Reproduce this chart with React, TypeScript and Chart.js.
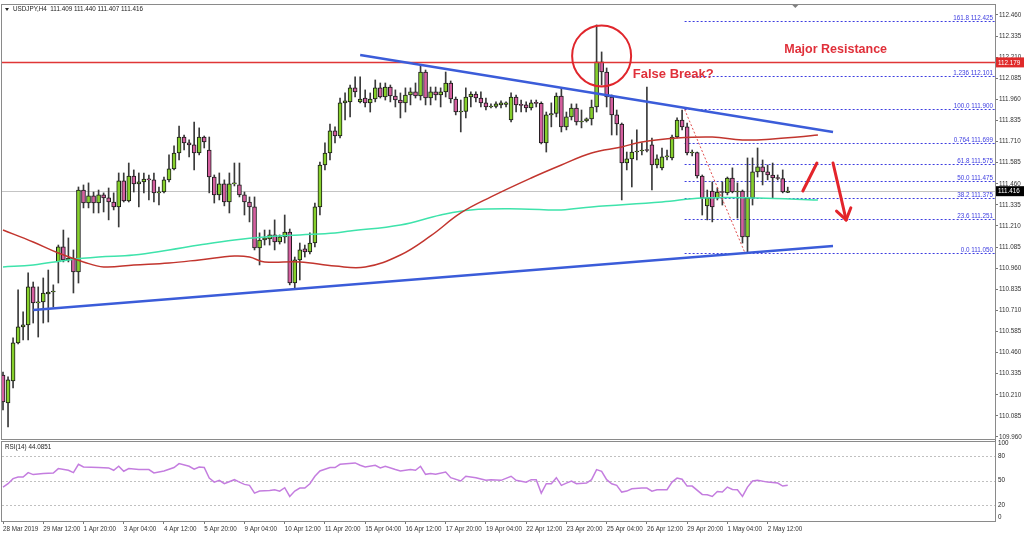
import React, { useEffect, useRef } from "react";
import { Chart, registerables } from "chart.js";
Chart.register(...registerables);

// ---------- DATA ----------
const opens = [110.327,110.161,110.292,110.517,110.612,110.624,110.849,110.754,110.760,110.807,110.819,110.997,111.086,111.009,111.020,110.938,111.423,111.346,111.388,111.346,111.394,111.376,111.352,111.323,111.477,111.358,111.506,111.459,111.471,111.488,111.483,111.406,111.411,111.483,111.548,111.642,111.737,111.702,111.690,111.642,111.737,111.660,111.500,111.394,111.459,111.352,111.459,111.453,111.394,111.352,111.323,111.080,111.127,111.133,111.157,111.115,111.145,111.174,110.872,111.009,111.074,111.056,111.109,111.323,111.571,111.642,111.773,111.743,111.939,111.945,112.028,111.945,111.968,111.939,111.962,112.028,111.974,112.033,111.980,111.956,111.939,111.986,112.004,111.980,112.122,111.968,112.004,111.986,112.004,112.057,111.962,111.885,111.888,111.974,111.992,111.968,111.939,111.915,111.918,111.927,111.930,111.838,111.974,111.927,111.927,111.909,111.939,111.936,111.702,111.868,111.876,111.980,111.797,111.856,111.909,111.826,111.832,111.844,111.915,112.182,112.122,111.974,111.868,111.814,111.583,111.607,111.648,111.654,111.660,111.690,111.571,111.554,111.619,111.613,111.737,111.838,111.797,111.642,111.645,111.506,111.329,111.417,111.376,111.411,111.406,111.494,111.411,111.417,111.145,111.376,111.530,111.560,111.530,111.512,111.494,111.491,111.409];
const highs = [110.345,110.316,110.547,110.831,110.701,110.932,110.878,110.849,110.902,110.949,110.861,111.097,111.186,111.139,111.068,111.441,111.453,111.465,111.411,111.423,111.406,111.435,111.406,111.524,111.524,111.583,111.542,111.524,111.524,111.512,111.524,111.441,111.500,111.631,111.684,111.802,111.749,111.720,111.826,111.791,111.743,111.737,111.512,111.524,111.483,111.524,111.583,111.583,111.411,111.382,111.382,111.169,111.186,111.186,111.246,111.157,111.275,111.192,111.026,111.109,111.097,111.169,111.346,111.589,111.702,111.814,111.797,111.968,111.998,112.045,112.093,112.093,112.016,111.998,112.075,112.057,112.057,112.045,112.016,111.998,112.028,112.028,112.057,112.164,112.134,112.033,112.033,112.028,112.122,112.069,111.974,111.956,112.028,112.004,112.004,112.004,111.968,111.933,111.945,111.951,111.945,111.998,111.986,111.956,111.945,111.956,111.956,111.945,111.885,111.939,111.998,112.028,111.885,111.933,111.933,111.897,111.850,111.956,112.401,112.241,112.146,111.986,111.897,111.820,111.648,111.720,111.779,111.702,112.033,111.731,111.631,111.672,111.660,111.749,111.850,111.897,111.820,111.660,111.648,111.512,111.423,111.471,111.435,111.471,111.500,111.554,111.465,111.423,111.613,111.613,111.672,111.601,111.571,111.583,111.512,111.542,111.440];
const lows = [110.120,110.019,110.250,110.511,110.535,110.535,110.635,110.552,110.635,110.641,110.730,110.872,110.997,110.997,110.813,110.872,111.317,111.317,111.287,111.287,111.293,111.246,111.305,111.204,111.352,111.352,111.411,111.323,111.406,111.364,111.352,111.334,111.406,111.471,111.542,111.601,111.660,111.619,111.542,111.631,111.672,111.406,111.346,111.364,111.329,111.287,111.447,111.382,111.275,111.234,111.068,110.979,111.097,111.097,111.068,111.103,111.109,110.861,110.843,110.890,111.026,111.044,111.086,111.275,111.542,111.601,111.702,111.731,111.838,111.856,111.974,111.939,111.915,111.885,111.945,111.968,111.956,111.945,111.915,111.850,111.885,111.927,111.968,111.956,111.927,111.927,111.956,111.915,111.974,111.939,111.868,111.767,111.850,111.915,111.945,111.915,111.897,111.909,111.909,111.909,111.915,111.826,111.885,111.885,111.885,111.897,111.915,111.696,111.648,111.797,111.856,111.767,111.779,111.838,111.808,111.791,111.826,111.808,111.885,112.045,111.915,111.749,111.749,111.364,111.542,111.441,111.601,111.631,111.648,111.423,111.554,111.542,111.601,111.601,111.731,111.779,111.631,111.625,111.494,111.275,111.246,111.234,111.364,111.334,111.394,111.406,111.257,111.109,111.050,111.334,111.500,111.453,111.483,111.376,111.483,111.406,111.407];
const closes = [110.167,110.298,110.517,110.612,110.624,110.849,110.754,110.760,110.813,110.819,110.822,111.086,111.009,111.020,110.938,111.423,111.346,111.388,111.346,111.394,111.376,111.352,111.323,111.477,111.358,111.506,111.459,111.471,111.488,111.483,111.406,111.411,111.483,111.548,111.642,111.737,111.702,111.690,111.642,111.737,111.708,111.500,111.394,111.459,111.352,111.459,111.462,111.394,111.352,111.323,111.080,111.127,111.139,111.157,111.115,111.145,111.174,110.872,111.009,111.068,111.056,111.109,111.323,111.571,111.642,111.773,111.743,111.939,111.951,112.028,112.004,111.962,111.939,111.962,112.028,111.974,112.033,111.980,111.956,111.939,111.986,112.004,111.980,112.122,111.968,112.004,111.986,112.004,112.057,111.962,111.885,111.888,111.974,111.992,111.968,111.939,111.915,111.918,111.933,111.939,111.939,111.974,111.927,111.924,111.909,111.939,111.936,111.702,111.868,111.876,111.980,111.797,111.856,111.909,111.826,111.832,111.844,111.915,112.182,112.122,111.974,111.868,111.814,111.583,111.607,111.648,111.654,111.660,111.657,111.571,111.607,111.619,111.622,111.737,111.838,111.797,111.642,111.645,111.506,111.376,111.376,111.323,111.411,111.408,111.494,111.411,111.417,111.145,111.376,111.530,111.560,111.530,111.512,111.494,111.491,111.411,111.416];

// moving averages, read at sampled bars (bar index, price)
const redMaIdx = [0,6,11,16,20,26,33,39,46,49,52,59,66,72,79,85,91,97,105,111,117,123,127,134,141,147,153,158,162];
const redMaVal = [111.186,111.115,111.050,110.997,110.967,110.979,110.991,111.009,111.032,111.026,110.997,110.997,110.973,110.967,111.038,111.151,111.287,111.382,111.494,111.571,111.642,111.678,111.708,111.731,111.737,111.720,111.725,111.737,111.749];
const greenMaIdx = [0,6,13,19,26,33,39,46,52,59,66,69,79,87,93,103,111,117,131,139,150,162];
const greenMaVal = [110.967,110.979,111.009,111.026,111.038,111.068,111.097,111.127,111.145,111.157,111.169,111.180,111.216,111.275,111.305,111.311,111.305,111.323,111.352,111.376,111.376,111.364];

// RSI(14), read at sampled bars
const rsiIdx = [0,1,2,3,4,5,6,8,10,11,13,14,15,16,19,21,22,23,24,25,27,29,30,32,34,35,37,38,39,40,41,42,43,44,46,47,48,49,50,51,53,54,55,56,57,58,59,60,61,62,63,65,66,67,70,71,72,74,75,76,78,79,81,82,83,84,85,86,88,89,91,92,94,96,97,99,101,102,104,105,106,107,108,109,110,111,112,113,114,116,117,118,119,120,121,122,123,124,125,127,128,129,130,132,133,134,135,136,137,139,140,141,142,143,144,145,146,147,148,149,150,152,154,155,156];
const rsiVal = [41.9,46,52.3,54.3,54.3,59.7,57.3,58.5,59.3,64.7,62.6,59.7,70,66.7,66,65.5,62.6,67.6,61.4,64.7,63.5,63.5,59.3,61.8,66,70.9,67.6,63.9,66.7,66,53,48,50.2,46,51,48,45.2,44,34.4,36.9,37.8,38.6,36.9,41.1,30.3,36.9,40.6,40.6,46,55.2,61.8,66,66,70,71.7,68.8,66.7,68.8,65.5,67.6,63.5,61.8,63.5,62.6,67.6,57.6,58.5,57.6,60.5,53.5,49.4,55.2,53.5,50.2,51,50.2,55.2,50.2,48,51,51,34.4,46,46,53.5,44,46.8,49.3,46,46.8,51,63.5,61.4,51,46,44,35.7,36.9,39.8,40.6,40.6,36.9,38.6,38.6,48,53,51.6,43.1,43.1,32.8,32.4,30.3,36.5,35.7,41.9,39,38.6,30.3,41.9,49.3,50.2,48,46.8,43.1,44.0851];

const priceTicks = [109.96,110.085,110.21,110.335,110.46,110.585,110.71,110.835,110.96,111.085,111.21,111.335,111.46,111.585,111.71,111.835,111.96,112.085,112.21,112.335,112.46];
const xTickIdx = [0,8,16,24,32,40,48,56,64,72,80,88,96,104,112,120,128,136,144,152];
const xTickLabels = ["28 Mar 2019","29 Mar 12:00","1 Apr 20:00","3 Apr 04:00","4 Apr 12:00","5 Apr 20:00","9 Apr 04:00","10 Apr 12:00","11 Apr 20:00","15 Apr 04:00","16 Apr 12:00","17 Apr 20:00","19 Apr 04:00","22 Apr 12:00","23 Apr 20:00","25 Apr 04:00","26 Apr 12:00","29 Apr 20:00","1 May 04:00","2 May 12:00"];

const fibLevels = [112.425,112.101,111.900,111.699,111.575,111.475,111.375,111.251,111.050];
const fibNames = ["161.8","1.236","100.0","0.764","61.8","50.0","38.2","23.6","0.0"];
const fibStartIdx = 135.5;
const fibDiagIdx = [135.5, 147.5];
const fibDiagVal = [111.900, 111.050];

const resistance = 112.179;
const lastPrice = 111.416;
const titleText = "USDJPY,H4  111.409 111.440 111.407 111.416";
const rsiTitle = "RSI(14) 44.0851";
const rsiGrid = [80, 50, 20];
const rsiAxisLabels = [100, 80, 50, 20, 0];

// drawn objects anchored in (bar index, price)
const downTrendIdx = [71, 165];
const downTrendVal = [112.223, 111.767];
const upTrendIdx = [6, 165];
const upTrendVal = [110.712, 111.091];
const circleAt = [119, 112.217];
const shortArrowIdx = [159, 161.8];
const shortArrowVal = [111.417, 111.583];
const longArrowIdx = [165, 167.6];
const longArrowVal = [111.583, 111.246];
const majorResAt = [155.3, 112.253];
const falseBreakAt = [125.2, 112.110];
const shiftMarkIdx = 157.5;

// ---------- STYLE ----------
const X_MIN = -0.2;
const X_MAX = 197.2;
const SMALL = "6.3px 'Liberation Sans', Arial, sans-serif";
const BULL = "#86d02c";
const BEAR = "#d45f9f";

function seg(ctx: CanvasRenderingContext2D, x1: number, y1: number, x2: number, y2: number) {
  ctx.beginPath();
  ctx.moveTo(x1, y1);
  ctx.lineTo(x2, y2);
  ctx.stroke();
}

const mainOverlay = {
  id: "mainOverlay",
  beforeDatasetsDraw(chart: any) {
    const { ctx, chartArea: a, scales } = chart;
    const x = scales.x, y = scales.y;
    ctx.save();
    ctx.strokeStyle = "#c4c4c4";
    ctx.lineWidth = 1;
    const yp = Math.round(y.getPixelForValue(lastPrice)) + 0.5;
    seg(ctx, a.left, yp, a.right, yp);
    ctx.strokeStyle = "#3d3de0";
    ctx.setLineDash([2, 2]);
    const xs = x.getPixelForValue(fibStartIdx);
    fibLevels.forEach((v) => {
      const py = Math.round(y.getPixelForValue(v)) + 0.5;
      seg(ctx, xs, py, a.right, py);
    });
    ctx.restore();
  },
  afterDatasetsDraw(chart: any) {
    const { ctx, chartArea: a, scales } = chart;
    const x = scales.x, y = scales.y;
    ctx.save();
    // fib labels
    ctx.font = SMALL;
    ctx.fillStyle = "#3d3de0";
    ctx.textAlign = "right";
    ctx.textBaseline = "bottom";
    fibLevels.forEach((v, k) => {
      const py = Math.round(y.getPixelForValue(v));
      ctx.fillText(fibNames[k] + " " + v.toFixed(3), a.right - 2, py);
    });
    // fib diagonal
    ctx.strokeStyle = "#e05050";
    ctx.lineWidth = 1;
    ctx.setLineDash([2, 2]);
    seg(ctx, x.getPixelForValue(fibDiagIdx[0]), y.getPixelForValue(fibDiagVal[0]), x.getPixelForValue(fibDiagIdx[1]), y.getPixelForValue(fibDiagVal[1]));
    ctx.setLineDash([]);
    // resistance
    ctx.strokeStyle = "#e03636";
    ctx.lineWidth = 1.5;
    const ry = y.getPixelForValue(resistance);
    seg(ctx, a.left, ry, a.right, ry);
    // trend lines
    ctx.strokeStyle = "#3b5cd9";
    ctx.lineWidth = 2.5;
    seg(ctx, x.getPixelForValue(downTrendIdx[0]), y.getPixelForValue(downTrendVal[0]), x.getPixelForValue(downTrendIdx[1]), y.getPixelForValue(downTrendVal[1]));
    seg(ctx, x.getPixelForValue(upTrendIdx[0]), y.getPixelForValue(upTrendVal[0]), x.getPixelForValue(upTrendIdx[1]), y.getPixelForValue(upTrendVal[1]));
    // circle
    ctx.strokeStyle = "#e0262c";
    ctx.lineWidth = 2;
    ctx.beginPath();
    ctx.ellipse(x.getPixelForValue(circleAt[0]), y.getPixelForValue(circleAt[1]), 29.5, 30.5, 0, 0, Math.PI * 2);
    ctx.stroke();
    // arrows
    ctx.strokeStyle = "#e3242b";
    ctx.lineWidth = 3;
    ctx.lineCap = "round";
    seg(ctx, x.getPixelForValue(shortArrowIdx[0]), y.getPixelForValue(shortArrowVal[0]), x.getPixelForValue(shortArrowIdx[1]), y.getPixelForValue(shortArrowVal[1]));
    const ax1 = x.getPixelForValue(longArrowIdx[0]), ay1 = y.getPixelForValue(longArrowVal[0]);
    const ax2 = x.getPixelForValue(longArrowIdx[1]), ay2 = y.getPixelForValue(longArrowVal[1]);
    seg(ctx, ax1, ay1, ax2, ay2);
    const ang = Math.atan2(ay2 - ay1, ax2 - ax1);
    const hl = 13;
    seg(ctx, ax2, ay2, ax2 - hl * Math.cos(ang - 0.6), ay2 - hl * Math.sin(ang - 0.6));
    seg(ctx, ax2, ay2, ax2 - hl * Math.cos(ang + 0.6), ay2 - hl * Math.sin(ang + 0.6));
    // texts
    ctx.fillStyle = "#e0303a";
    ctx.textAlign = "left";
    ctx.textBaseline = "middle";
    ctx.font = "bold 12.5px 'Liberation Sans', Arial, sans-serif";
    ctx.fillText("Major Resistance", x.getPixelForValue(majorResAt[0]), y.getPixelForValue(majorResAt[1]));
    ctx.font = "bold 13px 'Liberation Sans', Arial, sans-serif";
    ctx.fillText("False Break?", x.getPixelForValue(falseBreakAt[0]), y.getPixelForValue(falseBreakAt[1]));
    ctx.restore();
  },
  afterDraw(chart: any) {
    const { ctx, chartArea: a, scales } = chart;
    const x = scales.x, y = scales.y;
    ctx.save();
    ctx.strokeStyle = "#8a8a8a";
    ctx.lineWidth = 1;
    ctx.strokeRect(a.left - 0.5, a.top - 0.5, a.right - a.left + 1, a.bottom - a.top + 1);
    // shift marker
    const sx = x.getPixelForValue(shiftMarkIdx);
    ctx.fillStyle = "#808080";
    ctx.beginPath();
    ctx.moveTo(sx - 3, a.top);
    ctx.lineTo(sx + 3, a.top);
    ctx.lineTo(sx, a.top + 3);
    ctx.closePath();
    ctx.fill();
    // title
    ctx.fillStyle = "#222";
    ctx.beginPath();
    ctx.moveTo(5, 8);
    ctx.lineTo(9, 8);
    ctx.lineTo(7, 11);
    ctx.closePath();
    ctx.fill();
    ctx.font = SMALL;
    ctx.textBaseline = "middle";
    ctx.textAlign = "left";
    ctx.fillText(titleText, 13, 9.5);
    // axis price boxes
    const box = (v: number, bg: string) => {
      const py = y.getPixelForValue(v);
      ctx.fillStyle = bg;
      ctx.fillRect(a.right + 1, py - 5, 28, 10);
      ctx.fillStyle = "#fff";
      ctx.fillText(v.toFixed(3), a.right + 3, py + 0.5);
    };
    box(resistance, "#e02a2a");
    box(lastPrice, "#000");
    ctx.restore();
  },
};

const rsiOverlay = {
  id: "rsiOverlay",
  beforeDatasetsDraw(chart: any) {
    const { ctx, chartArea: a, scales } = chart;
    const y = scales.y;
    ctx.save();
    ctx.strokeStyle = "#c0c0c0";
    ctx.lineWidth = 1;
    ctx.setLineDash([2, 2]);
    rsiGrid.forEach((v) => {
      const py = Math.round(y.getPixelForValue(v)) + 0.5;
      seg(ctx, a.left, py, a.right, py);
    });
    ctx.restore();
  },
  afterDraw(chart: any) {
    const { ctx, chartArea: a, scales } = chart;
    const y = scales.y;
    ctx.save();
    ctx.strokeStyle = "#8a8a8a";
    ctx.lineWidth = 1;
    ctx.strokeRect(a.left - 0.5, a.top + 1.5, a.right - a.left + 1, a.bottom - a.top - 1);
    ctx.fillStyle = "#222";
    ctx.font = SMALL;
    ctx.textBaseline = "middle";
    ctx.textAlign = "left";
    ctx.fillText(rsiTitle, 5, 7.5);
    rsiAxisLabels.forEach((v) => {
      let py = y.getPixelForValue(v);
      if (v === 100) py += 3.5;
      if (v === 0) py -= 4;
      ctx.fillText(String(v), a.right + 3, py);
    });
    ctx.restore();
  },
};

export default function App() {
  const mainRef = useRef<HTMLCanvasElement>(null);
  const rsiRef = useRef<HTMLCanvasElement>(null);

  useEffect(() => {
    Chart.defaults.font.family = "'Liberation Sans', Arial, sans-serif";
    const bodyColors = opens.map((o, i) => (closes[i] >= o ? BULL : BEAR));
    const main = new Chart(mainRef.current as HTMLCanvasElement, {
      type: "bar",
      data: {
        datasets: [
          {
            type: "bar",
            data: lows.map((l, i) => ({ x: i, y: [l, highs[i]] })) as any,
            backgroundColor: "#3a3a3a",
            barThickness: 1,
            grouped: false,
            order: 4,
          } as any,
          {
            type: "bar",
            data: opens.map((o, i) => ({ x: i, y: [o, closes[i]] })) as any,
            backgroundColor: bodyColors,
            borderColor: "#1a1a1a",
            borderWidth: 1,
            borderSkipped: false,
            barThickness: 4,
            minBarLength: 1,
            grouped: false,
            order: 3,
          } as any,
          {
            type: "line",
            data: redMaIdx.map((v, k) => ({ x: v, y: redMaVal[k] })),
            borderColor: "#c2352e",
            borderWidth: 1.5,
            pointRadius: 0,
            tension: 0.4,
            order: 1,
          } as any,
          {
            type: "line",
            data: greenMaIdx.map((v, k) => ({ x: v, y: greenMaVal[k] })),
            borderColor: "#3ee3ab",
            borderWidth: 1.5,
            pointRadius: 0,
            tension: 0.4,
            order: 1,
          } as any,
        ],
      },
      options: {
        responsive: false,
        maintainAspectRatio: false,
        animation: false,
        events: [],
        layout: { padding: { left: 2, top: 5, right: 0, bottom: 1 } },
        plugins: { legend: { display: false }, tooltip: { enabled: false } },
        scales: {
          x: { type: "linear", min: X_MIN, max: X_MAX, offset: false, display: false },
          y: {
            type: "linear",
            position: "right",
            min: 109.948,
            max: 112.519,
            afterBuildTicks: (s: any) => {
              s.ticks = priceTicks.map((v) => ({ value: v }));
            },
            afterFit: (s: any) => {
              s.width = 29;
              s.paddingTop = 0;
              s.paddingBottom = 0;
            },
            grid: { drawOnChartArea: false, tickLength: 3, color: "#777" },
            border: { display: true, color: "#777" },
            ticks: {
              autoSkip: false,
              padding: 1,
              color: "#333",
              font: { size: 6.3 },
              callback: (v: any) => Number(v).toFixed(3),
            },
          },
        },
      } as any,
      plugins: [mainOverlay],
    });

    const rsi = new Chart(rsiRef.current as HTMLCanvasElement, {
      type: "line",
      data: {
        datasets: [
          {
            data: rsiIdx.map((v, k) => ({ x: v, y: rsiVal[k] })),
            borderColor: "#c47ddf",
            borderWidth: 1.5,
            pointRadius: 0,
            tension: 0,
          },
        ],
      },
      options: {
        responsive: false,
        maintainAspectRatio: false,
        animation: false,
        events: [],
        layout: { padding: { left: 2, top: 0, right: 0, bottom: 0 } },
        plugins: { legend: { display: false }, tooltip: { enabled: false } },
        scales: {
          x: {
            type: "linear",
            min: X_MIN,
            max: X_MAX,
            offset: false,
            afterBuildTicks: (s: any) => {
              s.ticks = xTickIdx.map((v) => ({ value: v }));
            },
            afterFit: (s: any) => {
              s.height = 13;
              s.paddingLeft = 0;
              s.paddingRight = 0;
            },
            grid: { drawOnChartArea: false, tickLength: 3, color: "#777" },
            border: { display: true, color: "#777" },
            ticks: {
              autoSkip: false,
              maxRotation: 0,
              minRotation: 0,
              align: "start",
              padding: 1,
              color: "#333",
              font: { size: 6.3 },
              callback: (v: any) => {
                const k = xTickIdx.indexOf(Number(v));
                return k >= 0 ? xTickLabels[k] : "";
              },
            },
          },
          y: {
            type: "linear",
            position: "right",
            min: 0,
            max: 100,
            afterFit: (s: any) => {
              s.width = 29;
              s.paddingTop = 0;
              s.paddingBottom = 0;
            },
            grid: { display: false },
            border: { display: true, color: "#777" },
            ticks: { display: false },
          },
        },
      } as any,
      plugins: [rsiOverlay],
    });

    return () => {
      main.destroy();
      rsi.destroy();
    };
  }, []);

  return (
    <div style={{ position: "fixed", left: 0, top: 0, width: 1024, height: 534, background: "#fff", overflow: "hidden" }}>
      <canvas ref={mainRef} width={1024} height={440} style={{ position: "absolute", left: 0, top: 0, width: 1024, height: 440 }} />
      <canvas ref={rsiRef} width={1024} height={94} style={{ position: "absolute", left: 0, top: 440, width: 1024, height: 94 }} />
    </div>
  );
}
